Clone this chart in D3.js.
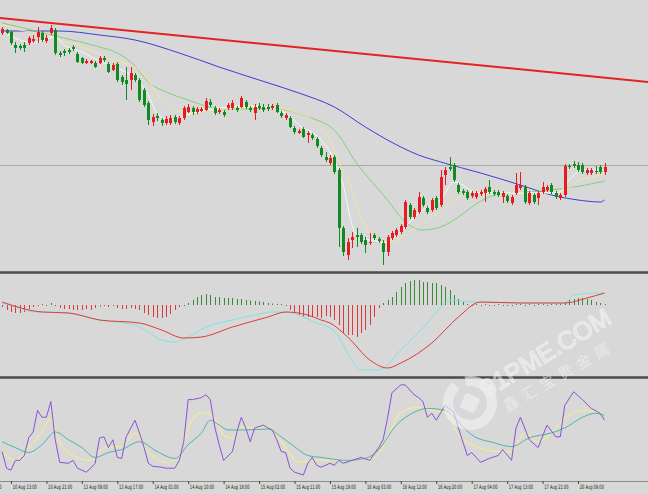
<!DOCTYPE html>
<html><head><meta charset="utf-8">
<script src="https://cdn.jsdelivr.net/npm/d3@7/dist/d3.min.js"></script>
<style>html,body{margin:0;padding:0;background:#d8d8d8;}svg{display:block;}</style>
</head><body><svg id="c" width="648" height="494"></svg>
<script>
// ---------- DATA ----------
const open  = [1621.7,1622.0,1621.8,1620.5,1620.4,1620.5,1620.7,1620.9,1621.3,1621.7,1620.9,1621.7,1622.0,1619.7,1619.9,1620.0,1620.3,1619.6,1619.2,1618.7,1618.7,1618.7,1618.7,1619.2,1618.6,1618.0,1618.6,1617.3,1617.0,1617.0,1617.5,1617.0,1616.0,1614.7,1612.8,1613.4,1613.0,1612.7,1612.7,1613.3,1612.7,1613.2,1613.8,1614.2,1613.8,1613.9,1614.0,1614.8,1614.2,1613.8,1613.8,1614.2,1614.2,1614.2,1614.3,1614.8,1614.2,1613.7,1614.4,1614.3,1614.3,1614.2,1614.5,1613.7,1613.2,1613.2,1612.2,1611.7,1612.1,1611.5,1611.5,1611.1,1610.2,1609.3,1608.7,1609.3,1608.0,1602.2,1599.5,1601.0,1601.5,1601.5,1601.0,1600.7,1601.5,1601.1,1600.7,1599.8,1601.2,1601.5,1601.8,1602.3,1604.5,1603.3,1603.8,1605.2,1604.2,1604.0,1605.2,1604.5,1607.5,1608.3,1608.5,1606.5,1605.9,1605.8,1605.4,1605.3,1605.6,1605.7,1606.3,1605.8,1605.8,1605.3,1605.4,1604.7,1605.7,1606.2,1606.3,1604.7,1605.5,1605.2,1605.8,1606.0,1606.5,1605.7,1605.2,1605.5,1608.4,1608.6,1608.5,1608.5,1607.7,1607.7,1607.9,1608.3,1607.8];
const high  = [1622.3,1622.1,1621.9,1620.8,1620.6,1620.8,1621.4,1621.5,1622.3,1621.9,1621.5,1622.5,1622.2,1619.9,1620.1,1620.2,1620.5,1619.8,1619.3,1619.1,1619.0,1618.9,1619.4,1619.4,1618.8,1618.7,1618.8,1617.5,1618.3,1618.3,1617.7,1617.2,1616.2,1614.9,1613.6,1613.7,1613.2,1613.4,1613.5,1613.5,1613.4,1614.4,1614.6,1614.4,1614.3,1614.3,1615.2,1615.1,1614.4,1614.2,1614.0,1614.7,1615.0,1614.4,1615.4,1615.0,1614.4,1614.6,1614.7,1614.6,1614.6,1614.6,1614.7,1613.9,1613.7,1613.4,1612.4,1612.1,1612.3,1611.9,1611.7,1611.3,1610.4,1609.8,1609.5,1609.5,1608.2,1602.4,1601.2,1601.8,1602.2,1601.7,1601.3,1601.7,1601.7,1601.3,1601.0,1601.5,1601.9,1602.2,1602.6,1605.0,1604.7,1604.2,1605.8,1605.4,1604.4,1605.2,1605.4,1608.0,1608.3,1609.3,1608.7,1606.7,1606.1,1606.0,1605.9,1605.9,1606.0,1606.3,1607.0,1606.0,1606.0,1605.9,1605.6,1605.5,1607.7,1607.8,1606.5,1605.9,1605.7,1605.9,1606.8,1606.5,1606.7,1605.9,1605.7,1608.6,1608.6,1608.9,1608.8,1608.7,1608.2,1608.2,1608.4,1608.5,1608.7];
const low   = [1621.5,1621.6,1620.5,1619.7,1620.0,1619.8,1620.5,1620.7,1620.7,1620.8,1620.7,1621.5,1619.5,1619.3,1619.4,1619.6,1619.9,1618.7,1618.6,1618.6,1618.6,1618.2,1618.6,1618.8,1617.7,1617.9,1616.8,1616.5,1615.0,1616.0,1616.8,1614.8,1614.3,1612.5,1612.4,1612.9,1612.4,1612.5,1612.5,1612.6,1612.5,1613.0,1613.7,1613.5,1613.6,1613.8,1613.9,1614.3,1613.5,1613.6,1613.3,1614.0,1614.0,1613.8,1614.2,1614.1,1613.8,1613.0,1614.0,1613.8,1613.9,1614.0,1613.7,1613.2,1613.0,1612.2,1611.6,1611.6,1611.2,1610.7,1611.0,1610.2,1609.3,1608.8,1608.5,1607.6,1600.3,1599.4,1599.0,1600.2,1600.3,1600.6,1599.7,1600.5,1601.0,1600.7,1598.5,1599.4,1601.0,1601.3,1601.6,1602.1,1603.1,1603.1,1603.6,1604.3,1603.6,1603.8,1604.0,1604.3,1606.5,1607.9,1606.8,1605.6,1605.5,1605.0,1605.2,1605.1,1605.4,1604.8,1605.6,1605.4,1605.3,1604.7,1604.7,1604.5,1605.5,1606.0,1604.6,1604.5,1604.6,1604.5,1605.6,1605.8,1605.6,1605.1,1605.0,1605.3,1608.1,1608.2,1607.8,1607.6,1607.5,1607.5,1607.6,1607.6,1607.5];
const close = [1622.1,1621.7,1620.7,1620.2,1620.2,1620.2,1621.2,1621.1,1621.8,1621.0,1621.2,1622.2,1619.7,1619.5,1619.7,1619.8,1620.1,1618.8,1618.7,1618.9,1618.9,1618.3,1619.2,1619.0,1617.8,1618.5,1617.0,1616.8,1616.6,1617.7,1617.0,1615.0,1614.5,1613.0,1613.3,1613.2,1612.7,1613.1,1613.2,1612.8,1613.2,1614.2,1614.3,1613.8,1614.1,1614.1,1614.9,1614.5,1613.7,1614.0,1613.5,1614.5,1614.7,1614.0,1615.2,1614.3,1614.0,1614.3,1614.2,1614.0,1614.1,1614.4,1613.8,1613.4,1613.5,1612.3,1611.8,1611.9,1611.3,1611.7,1611.2,1610.4,1609.5,1609.0,1609.2,1607.8,1602.2,1599.8,1600.8,1601.3,1601.3,1600.8,1600.5,1600.8,1601.2,1600.9,1599.8,1601.3,1601.7,1602.0,1602.4,1604.8,1603.3,1604.0,1605.3,1604.5,1603.8,1605.0,1604.2,1607.3,1608.0,1608.1,1607.0,1605.8,1605.7,1605.2,1605.7,1605.7,1605.8,1606.1,1605.8,1605.6,1605.5,1605.7,1604.9,1605.3,1606.5,1606.5,1604.8,1605.7,1604.8,1605.7,1606.3,1606.3,1605.8,1605.3,1605.5,1608.4,1608.3,1608.4,1608.0,1607.8,1608.0,1608.0,1607.8,1607.8,1608.3];

// moving averages: [candle index, price]
const maWhiteIdx  = [0,4,7,12,14,18,22,27,30,33,35,38,41,45,49,55,59,64,67,72,75,77,79,81,84,86,89,92,95,99,102,104,107,111,116,119,123,126,128,131,134,136];
const maWhiteVal  = [1621.9,1621.0,1620.7,1621.3,1620.5,1619.8,1618.9,1618.0,1617.2,1615.5,1613.7,1613.0,1613.4,1613.9,1614.2,1614.4,1614.3,1613.7,1612.5,1611.0,1609.0,1606.5,1602.5,1601.0,1601.0,1600.7,1601.4,1602.8,1604.0,1605.0,1606.8,1606.5,1605.7,1605.7,1605.7,1605.7,1605.7,1605.8,1607.0,1608.0,1608.0,1608.0];
const maYellowIdx = [0,4,9,13,20,25,30,33,36,39,43,47,54,60,66,70,74,76,79,81,84,86,88,92,95,99,103,106,110,115,121,124,128,130,133,136];
const maYellowVal = [1622.5,1622.0,1621.6,1621.0,1620.0,1619.0,1618.3,1617.0,1615.0,1614.0,1613.7,1614.0,1614.2,1614.3,1613.8,1613.0,1611.0,1608.8,1606.0,1603.3,1601.5,1600.7,1600.8,1601.8,1602.8,1603.8,1605.3,1605.8,1605.8,1605.7,1605.7,1605.8,1606.2,1606.9,1607.3,1607.6];
const maGreenIdx  = [0,4,13,22,26,30,33,37,42,46,50,56,60,64,69,75,80,87,91,95,99,103,106,110,114,119,124,129,134,136];
const maGreenVal  = [1622.7,1622.3,1621.3,1620.3,1619.7,1618.4,1616.8,1615.8,1615.0,1614.4,1614.1,1614.1,1614.2,1614.0,1613.3,1612.0,1608.7,1605.0,1602.8,1602.0,1602.3,1603.3,1604.3,1605.3,1605.7,1605.8,1606.0,1606.3,1606.7,1606.9];
const maBlueIdx   = [0,13,22,30,40,49,58,67,75,82,90,94,99,108,117,124,130,135,136];
const maBlueVal   = [1621.9,1621.9,1621.5,1621.0,1619.7,1618.3,1617.0,1615.7,1614.3,1612.3,1610.3,1609.5,1608.8,1607.7,1606.5,1605.5,1605.0,1604.8,1605.0];
const trendIdx    = [-0.5,146];
const trendVal    = [1623.2,1616.8];
const priceLine   = 1608.45;

// MACD pane
const macdHist = [-0.2,-0.5,-0.7,-0.8,-0.8,-0.7,-0.4,-0.2,-0.1,0.05,-0.05,0.2,-0.1,-0.3,-0.4,-0.4,-0.5,-0.5,-0.5,-0.4,-0.5,-0.3,-0.15,-0.1,-0.2,-0.1,-0.3,-0.4,-0.4,-0.3,-0.4,-0.5,-0.8,-1.0,-1.2,-1.3,-1.3,-1.2,-0.9,-0.5,-0.2,0.0,0.2,0.5,0.8,1.0,1.1,1.0,0.8,0.8,0.7,0.7,0.7,0.6,0.6,0.5,0.45,0.4,0.35,0.3,0.2,0.15,0.1,0.05,0.0,-0.5,-0.8,-1.0,-1.2,-1.2,-1.2,-1.2,-1.3,-1.1,-1.2,-1.5,-2.0,-2.8,-3.0,-3.0,-3.2,-2.8,-2.5,-2.0,-1.2,-0.3,0.2,0.5,0.8,1.3,1.8,2.2,2.4,2.5,2.5,2.3,2.3,2.2,2.2,2.0,1.8,1.5,1.0,0.6,0.3,0.1,-0.05,0.05,-0.05,0.05,-0.1,-0.05,0.05,-0.05,-0.1,-0.05,0.05,0.05,-0.05,0.05,-0.05,0.05,0.05,-0.05,0.05,0.05,0.05,0.3,0.5,0.6,0.7,0.7,0.6,0.5,0.3,0.2,0.1];
const macdIdx   = [0,4,7,11,15,22,30,33,36,39,42,46,52,57,61,64,67,71,74,76,78,81,85,90,96,100,102,106,108,117,127,129,134,136];
const macdVal   = [0.2,-0.3,-0.7,-0.7,-0.8,-1.5,-2.0,-2.7,-3.5,-3.7,-3.2,-2.2,-1.5,-1.0,-0.7,-0.7,-1.0,-1.8,-2.3,-3.2,-4.8,-6.5,-6.5,-4.5,-1.8,0.2,0.5,0.3,0.3,0.2,0.2,1.0,1.2,1.2];
const signalIdx = [0,9,15,22,31,36,41,45,52,60,64,69,72,74,78,83,87,90,97,103,108,117,127,132,136];
const signalVal = [0.3,-0.7,-0.8,-1.5,-1.8,-2.5,-3.3,-3.2,-2.2,-1.2,-0.7,-1.0,-1.5,-1.8,-3.2,-5.5,-6.3,-5.8,-3.8,-1.2,0.3,0.2,0.2,0.7,1.2];

// Stochastic pane
const stochKIdx = [0,1,2,3,4,5,6,7,8,9,10,11,12,13,15,16,17,19,20,21,22,23,24,25,26,27,28,30,31,32,33,34,36,37,39,40,41,42,43,45,46,47,48,49,50,52,53,54,55,56,57,59,60,61,62,63,64,65,66,68,69,70,71,72,74,75,76,77,79,81,83,85,86,87,88,90,91,93,94,95,96,97,98,100,102,103,105,106,108,110,112,113,115,116,117,119,121,123,125,126,127,129,131,133,135,136];
const stochKVal = [27,10,8,18,18,23,41,47,69,62,62,78,39,16,15,18,10,6,10,15,41,42,31,39,21,20,42,59,46,32,15,12,11,10,10,18,37,80,80,82,85,80,52,34,18,27,47,62,51,37,51,54,51,49,39,27,26,10,6,3,15,21,13,11,15,13,18,15,18,21,18,31,39,61,87,95,95,85,82,78,62,66,59,74,67,51,23,26,16,20,23,29,18,51,62,39,31,54,42,42,74,88,80,71,66,59];
const stochYIdx = [0,3,6,9,11,13,16,20,22,24,27,30,33,37,40,42,45,48,50,52,54,57,60,63,67,70,74,84,87,90,94,97,100,103,107,112,115,118,121,124,127,131,135,136];
const stochYVal = [27,18,31,47,61,37,23,18,27,32,32,46,27,16,23,51,67,61,44,41,52,51,51,37,16,18,18,20,41,67,72,69,67,44,32,27,27,46,37,46,61,69,67,64];
const stochDIdx = [0,3,6,9,12,15,18,21,24,27,31,35,39,42,45,47,49,51,55,60,63,66,69,72,78,82,85,89,93,96,100,103,106,111,115,119,124,127,131,134,136];
const stochDVal = [37,31,26,34,47,39,31,21,26,29,37,27,20,34,46,59,54,49,49,50,42,32,23,21,18,20,29,54,67,71,69,57,44,36,32,41,46,51,62,66,64];

// x-axis labels (every 8 candles)
const tickIdx    = [-6,2,10,18,26,34,42,50,58,66,74,82,90,98,106,114,122,130];
const tickLabels = ["10 Aug 05:00","10 Aug 13:00","10 Aug 21:00","13 Aug 09:00","13 Aug 17:00","14 Aug 01:00","14 Aug 10:00","14 Aug 18:00","15 Aug 02:00","15 Aug 11:00","15 Aug 19:00","16 Aug 03:00","16 Aug 12:00","16 Aug 20:00","17 Aug 04:00","17 Aug 13:00","17 Aug 21:00","20 Aug 09:00"];

// ---------- DRAW ----------
const svg = d3.select("#c");
const W = 648, H = 494;
const BG = "#d8d8d8", UP = "#e81b20", DN = "#128a24";
svg.append("rect").attr("width",W).attr("height",H).attr("fill",BG);

const x = d3.scaleLinear().domain([0,136]).range([2.1,604.6]);
const yP = d3.scaleLinear().domain([1598,1625]).range([270,0]);
const yM = d3.scaleLinear().domain([-7,3]).range([375,275]);
const yS = d3.scaleLinear().domain([0,100]).range([478,380]);

const defs = svg.append("defs");
defs.append("clipPath").attr("id","cp1").append("rect").attr("x",0).attr("y",0).attr("width",W).attr("height",271);
defs.append("clipPath").attr("id","cp2").append("rect").attr("x",0).attr("y",274).attr("width",W).attr("height",102);
defs.append("clipPath").attr("id","cp3").append("rect").attr("x",0).attr("y",379).attr("width",W).attr("height",101);

// main pane
const gMain = svg.append("g").attr("clip-path","url(#cp1)");
gMain.append("line").attr("x1",0).attr("x2",W).attr("y1",yP(priceLine)).attr("y2",yP(priceLine))
  .attr("stroke","#a9a9a9").attr("stroke-width",1);

const pairs = (I,V)=>I.map((d,i)=>[d,V[i]]);
const lineP = d3.line().x(d=>x(d[0])).y(d=>yP(d[1])).curve(d3.curveMonotoneX);
gMain.append("path").attr("d",lineP(pairs(trendIdx,trendVal))).attr("fill","none").attr("stroke","#e32222").attr("stroke-width",2);
gMain.append("path").attr("d",lineP(pairs(maBlueIdx,maBlueVal))).attr("fill","none").attr("stroke","#3d3dd6").attr("stroke-width",1);
gMain.append("path").attr("d",lineP(pairs(maGreenIdx,maGreenVal))).attr("fill","none").attr("stroke","#7fd37a").attr("stroke-width",1);
gMain.append("path").attr("d",lineP(pairs(maYellowIdx,maYellowVal))).attr("fill","none").attr("stroke","#f2e79a").attr("stroke-width",1);
gMain.append("path").attr("d",lineP(pairs(maWhiteIdx,maWhiteVal))).attr("fill","none").attr("stroke","#f8f8f8").attr("stroke-width",1);

const idx = d3.range(open.length);
const cg = gMain.append("g");
cg.selectAll("line.w").data(idx).join("line")
  .attr("x1",i=>Math.round(x(i))+0.5).attr("x2",i=>Math.round(x(i))+0.5)
  .attr("y1",i=>yP(high[i])).attr("y2",i=>yP(low[i]))
  .attr("stroke",i=>close[i]>=open[i]?UP:DN).attr("stroke-width",1);
cg.selectAll("rect.b").data(idx).join("rect")
  .attr("x",i=>Math.round(x(i))-1).attr("width",3)
  .attr("y",i=>yP(Math.max(open[i],close[i])))
  .attr("height",i=>Math.max(1,yP(Math.min(open[i],close[i]))-yP(Math.max(open[i],close[i]))))
  .attr("fill",i=>close[i]>=open[i]?UP:DN);

// separators
[272.5,377.5].forEach(y=>svg.append("line").attr("x1",0).attr("x2",W).attr("y1",y).attr("y2",y).attr("stroke","#4a4a4a").attr("stroke-width",2.5));

// MACD pane
const gM = svg.append("g").attr("clip-path","url(#cp2)");
gM.selectAll("line").data(idx).join("line")
  .attr("x1",i=>Math.round(x(i))+0.5).attr("x2",i=>Math.round(x(i))+0.5)
  .attr("y1",yM(0)).attr("y2",i=>Math.abs(macdHist[i])<0.06? yM(0)+(macdHist[i]>0?-1:1) : yM(macdHist[i]))
  .attr("stroke",i=>macdHist[i]>=0?"#3a8a3a":"#e0393b").attr("stroke-width",1);
const lineM = d3.line().x(d=>x(d[0])).y(d=>yM(d[1])).curve(d3.curveMonotoneX);
gM.append("path").attr("d",lineM(pairs(macdIdx,macdVal))).attr("fill","none").attr("stroke","#7fe3e3").attr("stroke-width",1);
gM.append("path").attr("d",lineM(pairs(signalIdx,signalVal))).attr("fill","none").attr("stroke","#e03a3a").attr("stroke-width",1);

// Stochastic pane
const gS = svg.append("g").attr("clip-path","url(#cp3)");
const lineS = d3.line().x(d=>x(d[0])).y(d=>yS(d[1])).curve(d3.curveMonotoneX);
const lineSK = d3.line().x(d=>x(d[0])).y(d=>yS(d[1]));
gS.append("path").attr("d",lineS(pairs(stochYIdx,stochYVal))).attr("fill","none").attr("stroke","#f0ea98").attr("stroke-width",1.2);
gS.append("path").attr("d",lineS(pairs(stochDIdx,stochDVal))).attr("fill","none").attr("stroke","#4fb3ad").attr("stroke-width",1);
gS.append("path").attr("d",lineSK(pairs(stochKIdx,stochKVal))).attr("fill","none").attr("stroke","#8a52d6").attr("stroke-width",1);

// x axis
const ax = svg.append("g").attr("transform","translate(0,481)")
  .call(d3.axisBottom(x).tickValues(tickIdx).tickFormat((d,i)=>tickLabels[i]).tickSize(3).tickSizeOuter(0));
ax.select(".domain").attr("d","M0,0.5H648").attr("stroke","#8a8a8a");
ax.selectAll(".tick line").attr("stroke","#444").attr("y2",3);
ax.selectAll(".tick text").attr("text-anchor","start").attr("x",2).attr("y",4).attr("dy","0.71em")
  .attr("transform","scale(0.6,1)")
  .attr("font-family","DejaVu Sans").attr("font-size",6).attr("fill","#1a1a1a");

// watermark
const wm = svg.append("g").attr("opacity",0.6);
const logo = wm.append("g").attr("transform","translate(470,403)");
logo.append("path").attr("d",d3.arc()({innerRadius:17,outerRadius:27,startAngle:-0.2,endAngle:5.6})).attr("fill","#f4f4f4");
logo.append("rect").attr("x",-8).attr("y",-8).attr("width",16).attr("height",16).attr("rx",3)
  .attr("transform","rotate(25)").attr("fill","#f4f4f4");
wm.append("text").text("91PME.COM").attr("transform","translate(487,398) rotate(-31)")
  .attr("font-family","Liberation Sans").attr("font-size",25).attr("fill","#f2f2f2").attr("fill-opacity",0.6)
  .attr("stroke","#ffffff").attr("stroke-width",1);
wm.append("text").text("鑫汇宝贵金属").attr("transform","translate(507,412) rotate(-30)")
  .attr("font-family","Noto Sans CJK SC").attr("font-size",15).attr("letter-spacing",6).attr("fill","#f4f4f4");
</script></body></html>
